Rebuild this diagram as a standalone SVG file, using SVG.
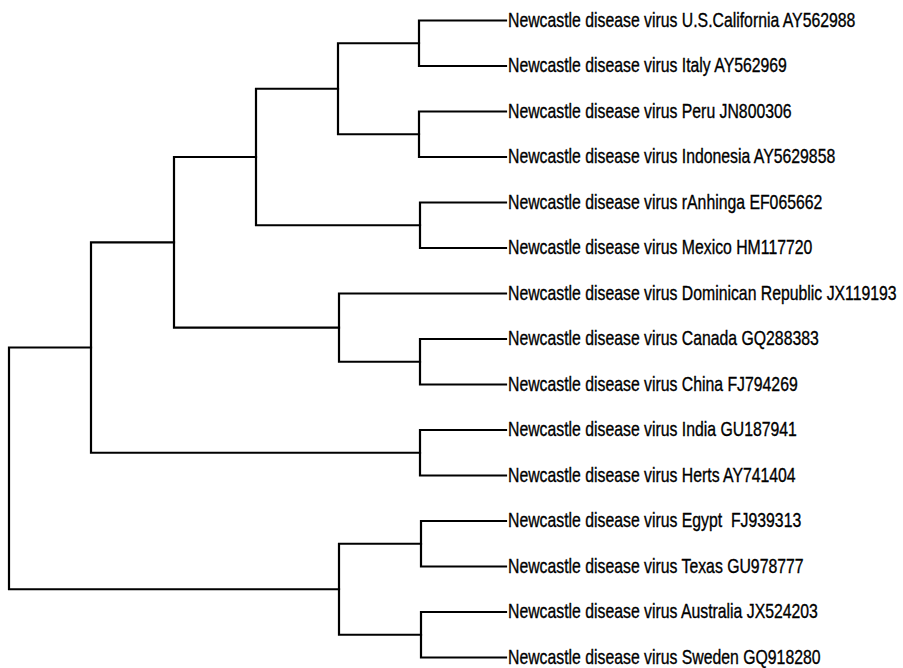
<svg xmlns="http://www.w3.org/2000/svg" width="903" height="668" viewBox="0 0 903 668">
<style>
.e{fill:none;stroke:#000;stroke-width:2.2;stroke-linecap:square;stroke-linejoin:miter}
.t{font-family:"Liberation Sans",Arial,sans-serif;font-size:20px;fill:#000;stroke:#000;stroke-width:0.35;transform:scale(0.79,1)}
</style>
<rect width="903" height="668" fill="#fff"/>
<g id="connectors">
<path class="e" d="M9,347.5V589.25M9,347.5H91M9,589.25H339"/>
<path class="e" d="M91,242.3V452.75M91,242.3H174M91,452.75H420"/>
<path class="e" d="M174,157V327.6M174,157H256M174,327.6H339"/>
<path class="e" d="M256,88.75V225.25M256,88.75H338M256,225.25H420"/>
<path class="e" d="M338,43.25V134.25M338,43.25H419M338,134.25H419"/>
<path class="e" d="M339,293.5V361.75M339,293.5H506M339,361.75H420"/>
<path class="e" d="M339,543.75V634.75M339,543.75H421M339,634.75H421"/>
<path class="e" d="M419,20.5V66M419,20.5H506M419,66H506"/>
<path class="e" d="M419,111.5V157M419,111.5H506M419,157H506"/>
<path class="e" d="M420,202.5V248M420,202.5H506M420,248H506"/>
<path class="e" d="M420,339V384.5M420,339H506M420,384.5H506"/>
<path class="e" d="M420,430V475.5M420,430H506M420,475.5H506"/>
<path class="e" d="M421,521V566.5M421,521H506M421,566.5H506"/>
<path class="e" d="M421,612V657.5M421,612H506M421,657.5H506"/>
</g>
<g id="leaf1" transform="translate(508,26.5)"><text class="t">Newcastle disease virus U.S.California AY562988</text></g>
<g id="leaf2" transform="translate(508,72)"><text class="t">Newcastle disease virus Italy AY562969</text></g>
<g id="leaf3" transform="translate(508,117.5)"><text class="t">Newcastle disease virus Peru JN800306</text></g>
<g id="leaf4" transform="translate(508,163)"><text class="t">Newcastle disease virus Indonesia AY5629858</text></g>
<g id="leaf5" transform="translate(508,208.5)"><text class="t">Newcastle disease virus rAnhinga EF065662</text></g>
<g id="leaf6" transform="translate(508,254)"><text class="t">Newcastle disease virus Mexico HM117720</text></g>
<g id="leaf7" transform="translate(508,299.5)"><text class="t">Newcastle disease virus Dominican Republic JX119193</text></g>
<g id="leaf8" transform="translate(508,345)"><text class="t">Newcastle disease virus Canada GQ288383</text></g>
<g id="leaf9" transform="translate(508,390.5)"><text class="t">Newcastle disease virus China FJ794269</text></g>
<g id="leaf10" transform="translate(508,436)"><text class="t">Newcastle disease virus India GU187941</text></g>
<g id="leaf11" transform="translate(508,481.5)"><text class="t">Newcastle disease virus Herts AY741404</text></g>
<g id="leaf12" transform="translate(508,527)"><text class="t" xml:space="preserve">Newcastle disease virus Egypt  FJ939313</text></g>
<g id="leaf13" transform="translate(508,572.5)"><text class="t">Newcastle disease virus Texas GU978777</text></g>
<g id="leaf14" transform="translate(508,618)"><text class="t">Newcastle disease virus Australia JX524203</text></g>
<g id="leaf15" transform="translate(508,663.5)"><text class="t">Newcastle disease virus Sweden GQ918280</text></g>
</svg>
